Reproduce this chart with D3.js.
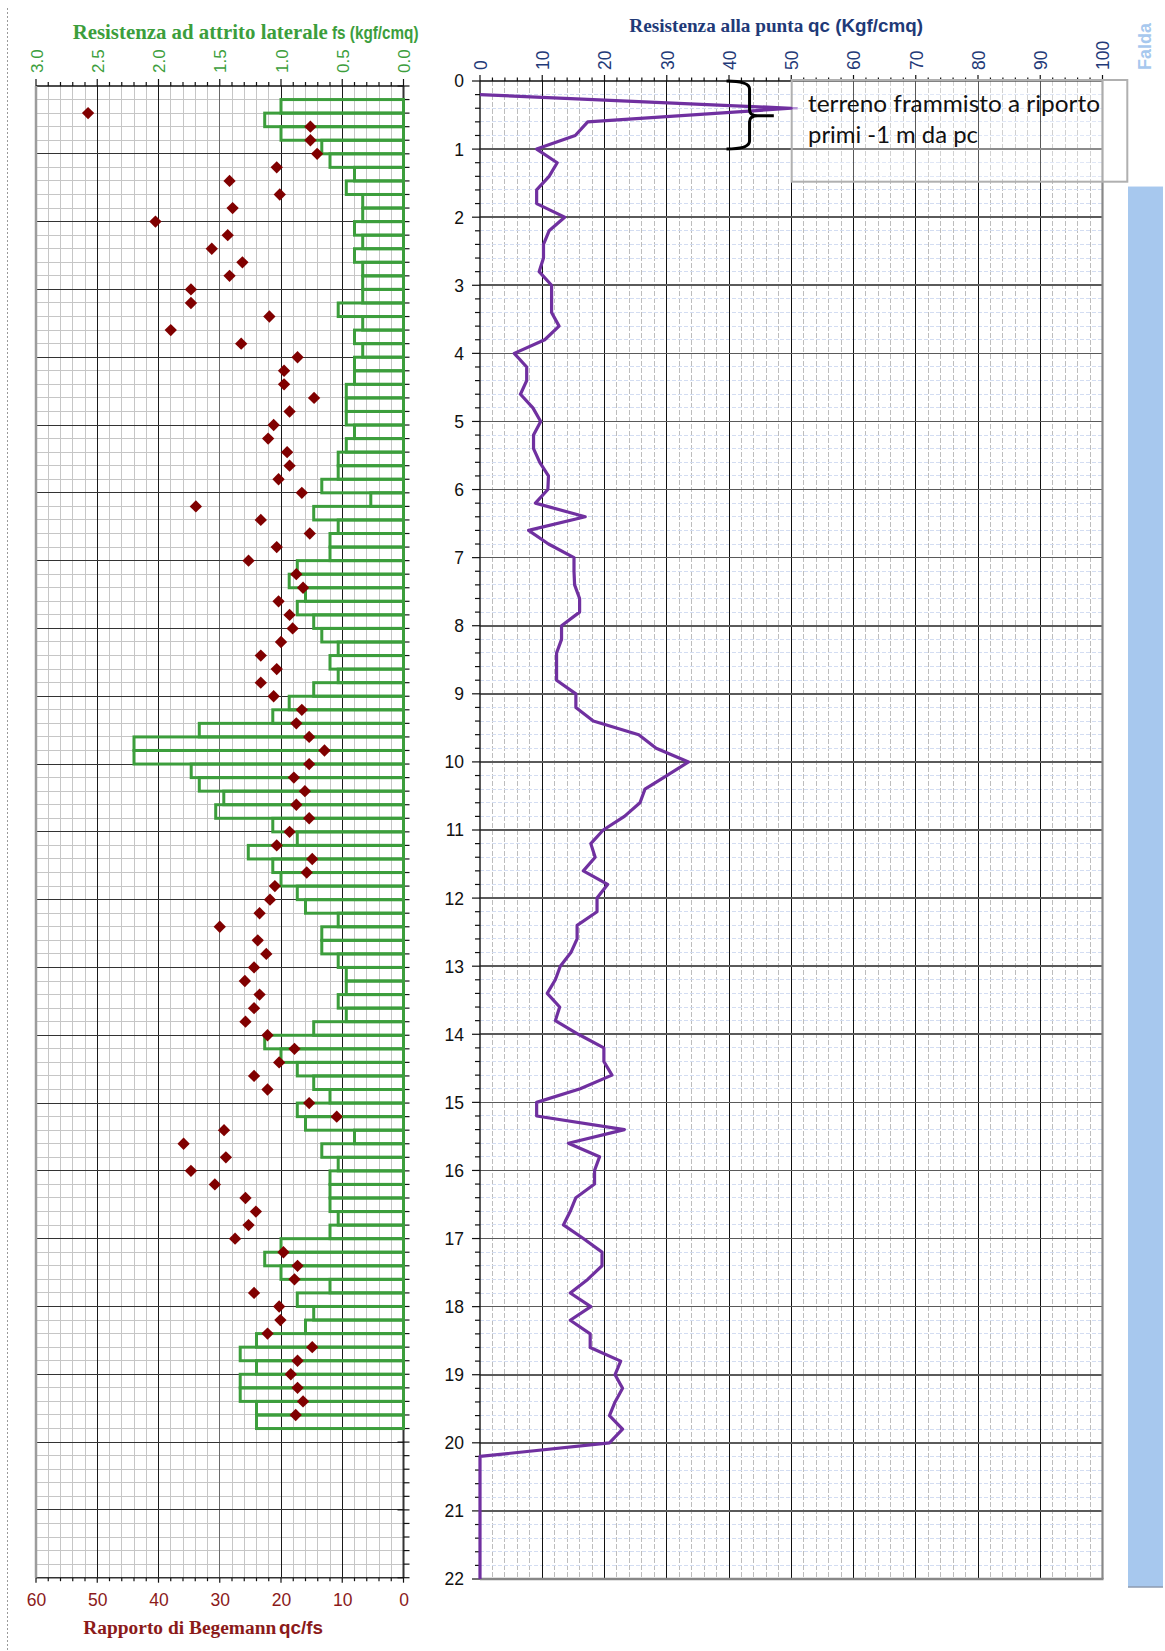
<!DOCTYPE html>
<html>
<head>
<meta charset="utf-8">
<script src="https://cdn.jsdelivr.net/npm/d3@7"></script>
<style>
  body { margin: 0; background: #fff; }
  svg { display: block; }
</style>
</head>
<body>
<svg id="chart" width="1165" height="1651"></svg>
<script>
// ---- CPT data (sampling step 0.2 m) ----
const STEP = 0.2;

// Tick labels
const fsTicks = [3.0, 2.5, 2.0, 1.5, 1.0, 0.5, 0.0];
const ratioTicks = [60, 50, 40, 30, 20, 10, 0];
const qcTicks = [0, 10, 20, 30, 40, 50, 60, 70, 80, 90, 100];
const depthTicks = d3.range(0, 23);

// Cone resistance qc (kgf/cm²), first reading at 0.2 m
const qcStart = 0.2;
const qc = [
  0, 50, 17.3, 15.3, 9.1,
  12.4, 11.1, 9.1, 9.1, 13.6,
  11.1, 10.2, 10.2, 9.5, 11.5,
  11.5, 11.5, 12.7, 10.4, 5.5,
  7.5, 7.5, 6.5, 8.5, 9.75,
  8.6, 8.6, 9.6, 11.0, 10.9,
  8.9, 16.9, 7.8, 11.0, 15.1,
  15.1, 15.2, 16.0, 16.0, 13.1,
  13.1, 12.3, 12.3, 12.3, 15.4,
  15.4, 18.2, 25.5, 28.3, 33.5,
  30.0, 26.5, 25.7, 23.2, 19.8,
  17.8, 18.5, 16.6, 20.5, 18.8,
  18.8, 15.6, 15.6, 14.6, 12.9,
  12.1, 10.8, 12.8, 12.1, 15.8,
  19.9, 19.9, 21.2, 16.1, 9.1,
  9.1, 23.2, 14.2, 19.2, 18.4,
  18.4, 15.4, 14.5, 13.4, 16.6,
  19.6, 19.6, 17.3, 14.5, 17.8,
  14.5, 17.7, 17.7, 22.6, 21.7,
  22.9, 21.7, 20.8, 22.9, 20.8,
  0, 0, 0, 0, 0,
  0, 0, 0, 0, 0
];

// Lateral friction fs (kgf/cm²), each value covers [d, d + 0.2]
const fsStart = 0.2;
const fs = [
  1.0, 1.133, 1.0, 0.667, 0.6,
  0.4, 0.467, 0.333, 0.333, 0.4,
  0.333, 0.4, 0.333, 0.333, 0.333,
  0.533, 0.333, 0.4, 0.333, 0.4,
  0.4, 0.467, 0.467, 0.467, 0.4,
  0.467, 0.533, 0.533, 0.667, 0.267,
  0.733, 0.533, 0.6, 0.6, 0.867,
  0.933, 0.8, 0.867, 0.733, 0.667,
  0.533, 0.6, 0.533, 0.733, 0.933,
  1.067, 1.667, 2.2, 2.2, 1.733,
  1.667, 1.467, 1.533, 1.067, 0.867,
  1.267, 1.067, 1.0, 0.867, 0.8,
  0.533, 0.667, 0.667, 0.533, 0.467,
  0.467, 0.533, 0.467, 0.733, 1.133,
  1.0, 0.867, 0.733, 0.6, 0.867,
  0.8, 0.4, 0.667, 0.533, 0.6,
  0.6, 0.6, 0.533, 0.6, 1.0,
  1.133, 1.0, 0.6, 0.867, 0.733,
  0.8, 1.2, 1.333, 1.2, 1.333,
  1.333, 1.2, 1.2
];

// Begemann ratio qc/fs, first point at 0.4 m
const ratioStart = 0.4;
const ratio = [
  51.5, 15.2, 15.2, 14.1,
  20.7, 28.4, 20.2, 27.9, 40.5,
  28.7, 31.3, 26.3, 28.4, 34.7,
  34.7, 21.9, 38.0, 26.5, 17.3,
  19.5, 19.5, 14.6, 18.6, 21.2,
  22.1, 19.0, 18.6, 20.4, 16.6,
  33.9, 23.3, 15.3, 20.7, 25.3,
  17.5, 16.4, 20.4, 18.6, 18.1,
  20.0, 23.3, 20.7, 23.3, 21.2,
  16.6, 17.5, 15.4, 12.9, 15.4,
  17.9, 16.1, 17.5, 15.4, 18.6,
  20.7, 14.9, 15.8, 21.0, 21.8,
  23.5, 30.0, 23.8, 22.4, 24.4,
  25.9, 23.5, 24.4, 25.8, 22.2,
  17.8, 20.3, 24.4, 22.2, 15.4,
  10.9, 29.3, 35.9, 29.0, 34.7,
  30.8, 25.8, 24.1, 25.3, 27.5,
  19.6, 17.3, 17.8, 24.4, 20.3,
  20.1, 22.2, 14.9, 17.3, 18.4,
  17.3, 16.4, 17.6
];

// Water table depth (m)
const faldaDepth = 1.55;

// Annotated layer: fill soil in the first metre
const noteDepth = [0, 1];
const noteQc = [39.6, 43.3, 47.2];
const noteText = ["terreno frammisto a riporto", "primi -1 m da pc"];

// ---- layout ----
const L = { x0: 36, x1: 403.5, y0: 86, y1: 1577.7 };
const R = { x0: 480, x1: 1102.5, y0: 81, y1: 1579 };

const SANS = "'Liberation Sans', Arial, sans-serif";
const SERIF = "'Liberation Serif', 'Times New Roman', serif";
const GREEN = "#3c9e3c";
const NAVY = "#1f3a78";
const DARKRED = "#8b1a1a";
const PURPLE = "#7030a0";

const xFs = d3.scaleLinear().domain([0, 3]).range([L.x1, L.x0]);
const xRatio = d3.scaleLinear().domain([0, 60]).range([L.x1, L.x0]);
const yL = d3.scaleLinear().domain([0, 22]).range([L.y0, L.y1]);
const xQc = d3.scaleLinear().domain([0, 100]).range([R.x0, R.x1]);
const yR = d3.scaleLinear().domain([0, 22]).range([R.y0, R.y1]);

const svg = d3.select("#chart");

// left dotted page rule
svg.append("line")
  .attr("x1", 7.5).attr("x2", 7.5).attr("y1", 8).attr("y2", 1651)
  .attr("stroke", "#9a9a9a").attr("stroke-width", 1).attr("stroke-dasharray", "2,2");

// water-table band
svg.append("rect")
  .attr("x", 1128).attr("width", 35)
  .attr("y", yR(faldaDepth)).attr("height", 1587 - yR(faldaDepth))
  .attr("fill", "#a7c8ee");
svg.append("line")
  .attr("x1", 1128).attr("x2", 1163).attr("y1", 1587).attr("y2", 1587)
  .attr("stroke", "#8c9bb0").attr("stroke-width", 1.5);
svg.append("text")
  .attr("transform", "translate(1151,70) rotate(-90)")
  .attr("font-family", SANS).attr("font-weight", "bold").attr("font-size", 18)
  .attr("fill", "#a7c8ee")
  .text("Falda");

function vLines(g, vals, x, ya, yb, stroke, w, dash) {
  g.selectAll(null).data(vals).join("line")
    .attr("x1", d => x(d)).attr("x2", d => x(d))
    .attr("y1", ya).attr("y2", yb)
    .attr("stroke", stroke).attr("stroke-width", w)
    .attr("stroke-dasharray", dash || null);
}
function hLines(g, vals, y, xa, xb, stroke, w, dash) {
  g.selectAll(null).data(vals).join("line")
    .attr("y1", d => y(d)).attr("y2", d => y(d))
    .attr("x1", xa).attr("x2", xb)
    .attr("stroke", stroke).attr("stroke-width", w)
    .attr("stroke-dasharray", dash || null);
}

// ---- left panel grid ----
const gL = svg.append("g").attr("shape-rendering", "crispEdges");
vLines(gL, d3.range(1, 30).map(i => i / 10), xFs, L.y0, L.y1, "#c6c6c6", 1);
hLines(gL, d3.range(1, 110).map(i => i * STEP), yL, L.x0, L.x1, "#c6c6c6", 1);
vLines(gL, [0.5, 1.0, 2.0, 2.5], xFs, L.y0, L.y1, "#1a1a1a", 1);
vLines(gL, [1.5], xFs, L.y0, L.y1, "#6a6a6a", 1);
hLines(gL, d3.range(1, 22), yL, L.x0, L.x1, "#333", 1);

// ---- right panel grid ----
const gR = svg.append("g").attr("shape-rendering", "crispEdges");
vLines(gR, d3.range(1, 50).map(i => i * 2), xQc, R.y0, R.y1, "#bdbdbd", 1, "5,2");
hLines(gR, d3.range(1, 110).map(i => i * STEP), yR, R.x0, R.x1, "#d3ddf2", 1, "4,2");
vLines(gR, d3.range(10, 100, 10), xQc, R.y0, R.y1, "#111", 1);
hLines(gR, d3.range(1, 22), yR, R.x0, R.x1, "#5a5a5a", 1.6);

// ---- panel borders ----
const gB = svg.append("g");
gB.append("line").attr("x1", L.x0).attr("x2", L.x1).attr("y1", L.y0).attr("y2", L.y0).attr("stroke", "#111").attr("stroke-width", 1.5);
gB.append("line").attr("x1", L.x0).attr("x2", L.x1).attr("y1", L.y1).attr("y2", L.y1).attr("stroke", "#333").attr("stroke-width", 1.6);
gB.append("line").attr("x1", L.x0).attr("x2", L.x0).attr("y1", L.y0).attr("y2", L.y1).attr("stroke", "#9c9c9c").attr("stroke-width", 2.5);
gB.append("line").attr("x1", L.x1).attr("x2", L.x1).attr("y1", L.y0).attr("y2", L.y1).attr("stroke", "#333").attr("stroke-width", 2);

gB.append("line").attr("x1", R.x0).attr("x2", R.x1).attr("y1", R.y0).attr("y2", R.y0).attr("stroke", "#111").attr("stroke-width", 1.5);
gB.append("line").attr("x1", R.x1).attr("x2", R.x1).attr("y1", R.y0).attr("y2", R.y1).attr("stroke", "#888").attr("stroke-width", 2.2);
gB.append("line").attr("x1", R.x0).attr("x2", R.x1 + 1).attr("y1", R.y1).attr("y2", R.y1).attr("stroke", "#888").attr("stroke-width", 2.5);
gB.append("line").attr("x1", R.x0).attr("x2", R.x0).attr("y1", R.y0).attr("y2", R.y1).attr("stroke", "#222").attr("stroke-width", 1.5);

// ---- minor ticks ----
const gT = svg.append("g").attr("stroke", "#111").attr("stroke-width", 1.2);
// fs axis (top left), every 0.1
gT.selectAll(null).data(d3.range(0, 31).map(i => i / 10)).join("line")
  .attr("x1", d => xFs(d)).attr("x2", d => xFs(d))
  .attr("y1", L.y0).attr("y2", (d, i) => L.y0 - (i % 5 === 0 ? 7 : 4));
// ratio axis (bottom left), every 2
gT.selectAll(null).data(d3.range(0, 31).map(i => i * 2)).join("line")
  .attr("x1", d => xRatio(d)).attr("x2", d => xRatio(d))
  .attr("y1", L.y1).attr("y2", (d, i) => L.y1 + (i % 5 === 0 ? 5 : 3.5));
// depth ticks on the right side of the left panel
gT.selectAll(null).data(d3.range(0, 111).map(i => i * STEP)).join("line")
  .attr("y1", d => yL(d)).attr("y2", d => yL(d))
  .attr("x1", (d, i) => i % 5 === 0 ? L.x1 - 6 : L.x1).attr("x2", L.x1 + 6);
// qc axis (top right), every 2
gT.selectAll(null).data(d3.range(0, 51).map(i => i * 2)).join("line")
  .attr("x1", d => xQc(d)).attr("x2", d => xQc(d))
  .attr("y1", R.y0).attr("y2", (d, i) => R.y0 - (i % 5 === 0 ? 6 : 3.5));
// depth axis minor ticks (right panel)
gT.selectAll(null).data(d3.range(0, 111).map(i => i * STEP)).join("line")
  .attr("y1", d => yR(d)).attr("y2", d => yR(d))
  .attr("x1", R.x0).attr("x2", (d, i) => R.x0 - (i % 5 === 0 ? 8 : 5));

// ---- labelled axes ----
const axFs = svg.append("g").attr("transform", `translate(0,${L.y0})`)
  .call(d3.axisTop(xFs).tickValues(fsTicks).tickFormat(d3.format(".1f")).tickSize(0));
axFs.select(".domain").remove();
axFs.selectAll("text")
  .attr("transform", "rotate(-90)")
  .attr("x", 13).attr("y", 0).attr("dy", "0.36em")
  .attr("text-anchor", "start")
  .attr("font-family", SANS).attr("font-size", 17).attr("fill", GREEN);

const axRatio = svg.append("g").attr("transform", `translate(0,${L.y1})`)
  .call(d3.axisBottom(xRatio).tickValues(ratioTicks).tickSize(0));
axRatio.select(".domain").remove();
axRatio.selectAll("text")
  .attr("y", 16).attr("dy", "0.71em")
  .attr("font-family", SANS).attr("font-size", 17.5).attr("fill", DARKRED);

const axQc = svg.append("g").attr("transform", `translate(0,${R.y0})`)
  .call(d3.axisTop(xQc).tickValues(qcTicks).tickSize(0));
axQc.select(".domain").remove();
axQc.selectAll("text")
  .attr("transform", "rotate(-90)")
  .attr("x", 11).attr("y", 0).attr("dy", "0.36em")
  .attr("text-anchor", "start")
  .attr("font-family", SANS).attr("font-size", 17.5).attr("fill", NAVY);

const axDepth = svg.append("g").attr("transform", `translate(${R.x0},0)`)
  .call(d3.axisLeft(yR).tickValues(depthTicks).tickSize(0));
axDepth.select(".domain").remove();
axDepth.selectAll("text")
  .attr("x", -16).attr("dy", "0.34em")
  .attr("font-family", SANS).attr("font-size", 17.5).attr("fill", "#111");

// ---- fs bars ----
svg.append("g").selectAll("rect").data(fs).join("rect")
  .attr("x", d => xFs(d))
  .attr("width", d => xFs(0) - xFs(d))
  .attr("y", (d, i) => yL(fsStart + i * STEP))
  .attr("height", yL(STEP) - yL(0))
  .attr("fill", "none")
  .attr("stroke", GREEN).attr("stroke-width", 3);

// ---- Begemann ratio points ----
const diamond = d3.symbol().type(d3.symbolSquare).size(76);
svg.append("g").selectAll("path").data(ratio).join("path")
  .attr("d", diamond)
  .attr("transform", (d, i) => `translate(${xRatio(d)},${yL(ratioStart + i * STEP)}) rotate(45)`)
  .attr("fill", "#800000");

// ---- annotation box ----
const box = { x: 791.7, y: 80, w: 335.6, h: 101.7 };
svg.append("rect")
  .attr("x", box.x).attr("y", box.y).attr("width", box.w).attr("height", box.h)
  .attr("fill", "#fff").attr("fill-opacity", 0.3)
  .attr("stroke", "#b0b0b0").attr("stroke-width", 2);
const noteWidths = [292, 170];
svg.append("g").selectAll("text").data(noteText).join("text")
  .attr("x", 808).attr("y", (d, i) => 111.5 + i * 31.5)
  .attr("font-family", "Lato, 'Open Sans', sans-serif").attr("font-size", 23)
  .attr("fill", "#111")
  .attr("textLength", (d, i) => noteWidths[i]).attr("lengthAdjust", "spacingAndGlyphs")
  .text(d => d);

// ---- qc profile ----
const qcLine = d3.line()
  .x(d => xQc(d))
  .y((d, i) => yR(qcStart + i * STEP));
// leader from the shallow peak into the note box
const peakIdx = qc.indexOf(d3.max(qc));
svg.append("line")
  .attr("x1", xQc(qc[peakIdx])).attr("x2", box.x + 6)
  .attr("y1", yR(qcStart + peakIdx * STEP)).attr("y2", yR(qcStart + peakIdx * STEP))
  .attr("stroke", "#b89ad8").attr("stroke-width", 2.5);
svg.append("path")
  .attr("d", qcLine(qc))
  .attr("fill", "none")
  .attr("stroke", PURPLE).attr("stroke-width", 3.2)
  .attr("stroke-linejoin", "round");

// ---- curly brace over the first metre ----
{
  const xa = xQc(noteQc[0]), xm = xQc(noteQc[1]), xt = xQc(noteQc[2]);
  const ya = yR(noteDepth[0]), yb = yR(noteDepth[1]);
  const ym = yR(0.51);
  const p = d3.path();
  p.moveTo(xa, ya);
  p.quadraticCurveTo(xm, ya, xm, ya + 8);
  p.lineTo(xm, ym - 6);
  p.quadraticCurveTo(xm, ym, xm + 8, ym);
  p.lineTo(xt, ym);
  p.moveTo(xm + 8, ym);
  p.quadraticCurveTo(xm, ym, xm, ym + 6);
  p.lineTo(xm, yb - 8);
  p.quadraticCurveTo(xm, yb, xa, yb);
  svg.append("path").attr("d", p.toString())
    .attr("fill", "none").attr("stroke", "#000").attr("stroke-width", 3)
    .attr("stroke-linecap", "butt");
}

// ---- titles ----
function title(x, y, serifTxt, serifLen, sansTxt, sansX, sansLen, size, sansSize, color) {
  svg.append("text").attr("x", x).attr("y", y)
    .attr("font-family", SERIF).attr("font-weight", "bold").attr("font-size", size)
    .attr("fill", color)
    .attr("textLength", serifLen).attr("lengthAdjust", "spacingAndGlyphs")
    .text(serifTxt);
  svg.append("text").attr("x", sansX).attr("y", y)
    .attr("font-family", SANS).attr("font-weight", "bold").attr("font-size", sansSize)
    .attr("fill", color)
    .attr("textLength", sansLen).attr("lengthAdjust", "spacingAndGlyphs")
    .text(sansTxt);
}
title(72.7, 39, "Resistenza ad attrito laterale", 255, "fs (kgf/cmq)", 332, 86.5, 20.5, 18.5, GREEN);
title(629.3, 31.7, "Resistenza alla punta", 174, "qc (Kgf/cmq)", 808, 115, 19.5, 19, NAVY);
title(83.3, 1634, "Rapporto di Begemann", 193, "qc/fs", 279, 44, 18.5, 19, DARKRED);
</script>
</body>
</html>
